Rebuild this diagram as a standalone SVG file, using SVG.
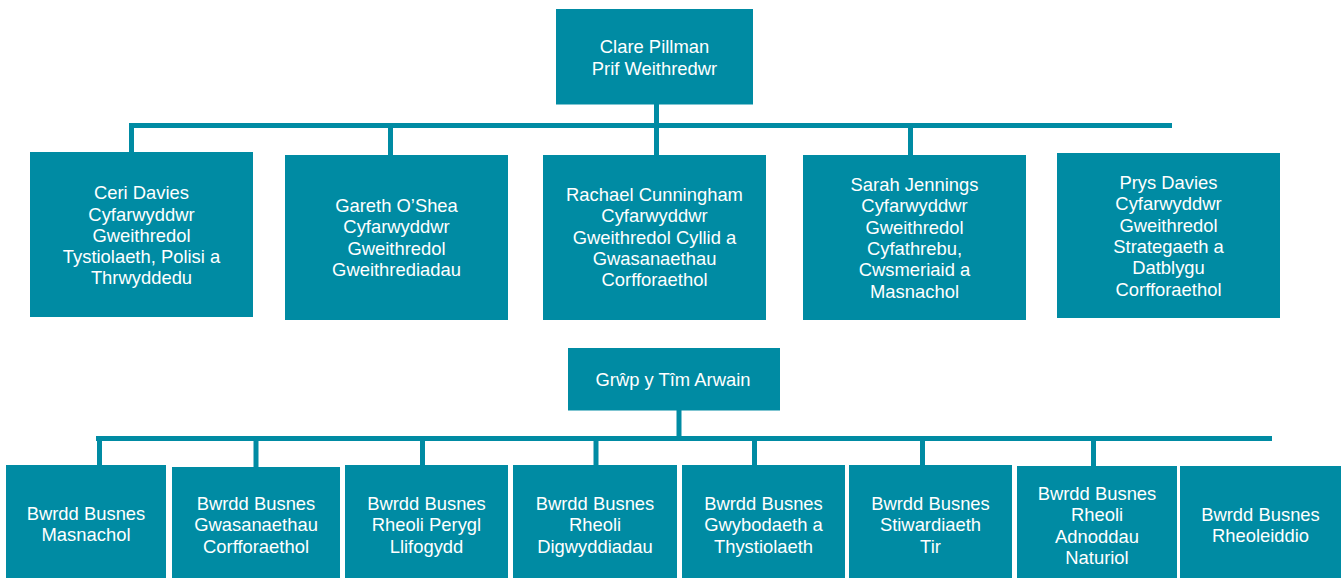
<svg xmlns="http://www.w3.org/2000/svg" width="1342" height="578" viewBox="0 0 1342 578">
<style>
.box{fill:#008BA3}
.t{font-family:"Liberation Sans",Arial,sans-serif;font-size:18.4px;fill:#ffffff;text-anchor:middle}
.c{stroke:#008BA3;stroke-width:5;fill:none}
</style>
<rect width="1342" height="578" fill="#ffffff"/>
<g id="connectors">
<line class="c" x1="129" y1="125.5" x2="1172" y2="125.5"/>
<line class="c" x1="656.5" y1="104" x2="656.5" y2="155"/>
<line class="c" x1="131.5" y1="125.5" x2="131.5" y2="152"/>
<line class="c" x1="390.5" y1="125.5" x2="390.5" y2="155"/>
<line class="c" x1="910.5" y1="125.5" x2="910.5" y2="155"/>
<line class="c" x1="96" y1="438.5" x2="1272" y2="438.5"/>
<line class="c" x1="679" y1="410" x2="679" y2="438.5"/>
<line class="c" x1="99.5" y1="438.5" x2="99.5" y2="465"/>
<line class="c" x1="256" y1="438.5" x2="256" y2="467"/>
<line class="c" x1="422.5" y1="438.5" x2="422.5" y2="465"/>
<line class="c" x1="596" y1="438.5" x2="596" y2="465"/>
<line class="c" x1="754.5" y1="438.5" x2="754.5" y2="465"/>
<line class="c" x1="922.5" y1="438.5" x2="922.5" y2="465"/>
<line class="c" x1="1093.5" y1="438.5" x2="1093.5" y2="466"/>
</g>
<g id="ceo">
<rect class="box" x="556" y="9" width="197" height="95.5"/>
<text class="t" x="654.5" y="53">Clare Pillman</text>
<text class="t" x="654.5" y="75">Prif Weithredwr</text>
</g>
<g id="ceri">
<rect class="box" x="30" y="152" width="223" height="165"/>
<text class="t" x="141.5"><tspan x="141.5" y="199">Ceri Davies</tspan><tspan x="141.5" y="220.5">Cyfarwyddwr</tspan><tspan x="141.5" y="241.8">Gweithredol</tspan><tspan x="141.5" y="263.1">Tystiolaeth, Polisi a</tspan><tspan x="141.5" y="284.4">Thrwyddedu</tspan></text>
</g>
<g id="gareth">
<rect class="box" x="285" y="155" width="223" height="165"/>
<text class="t" x="396.5"><tspan x="396.5" y="212">Gareth O’Shea</tspan><tspan x="396.5" y="233.3">Cyfarwyddwr</tspan><tspan x="396.5" y="254.6">Gweithredol</tspan><tspan x="396.5" y="275.9">Gweithrediadau</tspan></text>
</g>
<g id="rachael">
<rect class="box" x="543" y="155" width="223" height="165"/>
<text class="t" x="654.5"><tspan x="654.5" y="201">Rachael Cunningham</tspan><tspan x="654.5" y="222.3">Cyfarwyddwr</tspan><tspan x="654.5" y="243.6">Gweithredol Cyllid a</tspan><tspan x="654.5" y="264.9">Gwasanaethau</tspan><tspan x="654.5" y="286.2">Corfforaethol</tspan></text>
</g>
<g id="sarah">
<rect class="box" x="803" y="155" width="223" height="165"/>
<text class="t" x="914.5"><tspan x="914.5" y="191">Sarah Jennings</tspan><tspan x="914.5" y="212.3">Cyfarwyddwr</tspan><tspan x="914.5" y="233.6">Gweithredol</tspan><tspan x="914.5" y="254.9">Cyfathrebu,</tspan><tspan x="914.5" y="276.2">Cwsmeriaid a</tspan><tspan x="914.5" y="297.5">Masnachol</tspan></text>
</g>
<g id="prys">
<rect class="box" x="1057" y="153" width="223" height="165"/>
<text class="t" x="1168.5"><tspan x="1168.5" y="189">Prys Davies</tspan><tspan x="1168.5" y="210.3">Cyfarwyddwr</tspan><tspan x="1168.5" y="231.6">Gweithredol</tspan><tspan x="1168.5" y="252.9">Strategaeth a</tspan><tspan x="1168.5" y="274.2">Datblygu</tspan><tspan x="1168.5" y="295.5">Corfforaethol</tspan></text>
</g>
<g id="tim">
<rect class="box" x="568" y="348" width="212" height="62.5"/>
<text class="t" x="673" y="386">Grŵp y Tîm Arwain</text>
</g>
<g id="b1">
<rect class="box" x="6" y="465" width="160" height="120"/>
<text class="t" x="86"><tspan x="86" y="520">Bwrdd Busnes</tspan><tspan x="86" y="541.3">Masnachol</tspan></text>
</g>
<g id="b2">
<rect class="box" x="172" y="467" width="168" height="120"/>
<text class="t" x="256"><tspan x="256" y="510">Bwrdd Busnes</tspan><tspan x="256" y="531.3">Gwasanaethau</tspan><tspan x="256" y="552.6">Corfforaethol</tspan></text>
</g>
<g id="b3">
<rect class="box" x="345" y="465" width="163" height="120"/>
<text class="t" x="426.5"><tspan x="426.5" y="510">Bwrdd Busnes</tspan><tspan x="426.5" y="531.3">Rheoli Perygl</tspan><tspan x="426.5" y="552.6">Llifogydd</tspan></text>
</g>
<g id="b4">
<rect class="box" x="513" y="465" width="164" height="120"/>
<text class="t" x="595"><tspan x="595" y="510">Bwrdd Busnes</tspan><tspan x="595" y="531.3">Rheoli</tspan><tspan x="595" y="552.6">Digwyddiadau</tspan></text>
</g>
<g id="b5">
<rect class="box" x="682" y="465" width="163" height="120"/>
<text class="t" x="763.5"><tspan x="763.5" y="510">Bwrdd Busnes</tspan><tspan x="763.5" y="531.3">Gwybodaeth a</tspan><tspan x="763.5" y="552.6">Thystiolaeth</tspan></text>
</g>
<g id="b6">
<rect class="box" x="849" y="465" width="163" height="120"/>
<text class="t" x="930.5"><tspan x="930.5" y="510">Bwrdd Busnes</tspan><tspan x="930.5" y="531.3">Stiwardiaeth</tspan><tspan x="930.5" y="552.6">Tir</tspan></text>
</g>
<g id="b7">
<rect class="box" x="1017" y="466" width="160" height="120"/>
<text class="t" x="1097"><tspan x="1097" y="500">Bwrdd Busnes</tspan><tspan x="1097" y="521.3">Rheoli</tspan><tspan x="1097" y="542.6">Adnoddau</tspan><tspan x="1097" y="563.9">Naturiol</tspan></text>
</g>
<g id="b8">
<rect class="box" x="1180" y="466" width="161" height="120"/>
<text class="t" x="1260.5"><tspan x="1260.5" y="521">Bwrdd Busnes</tspan><tspan x="1260.5" y="542.3">Rheoleiddio</tspan></text>
</g>
</svg>
